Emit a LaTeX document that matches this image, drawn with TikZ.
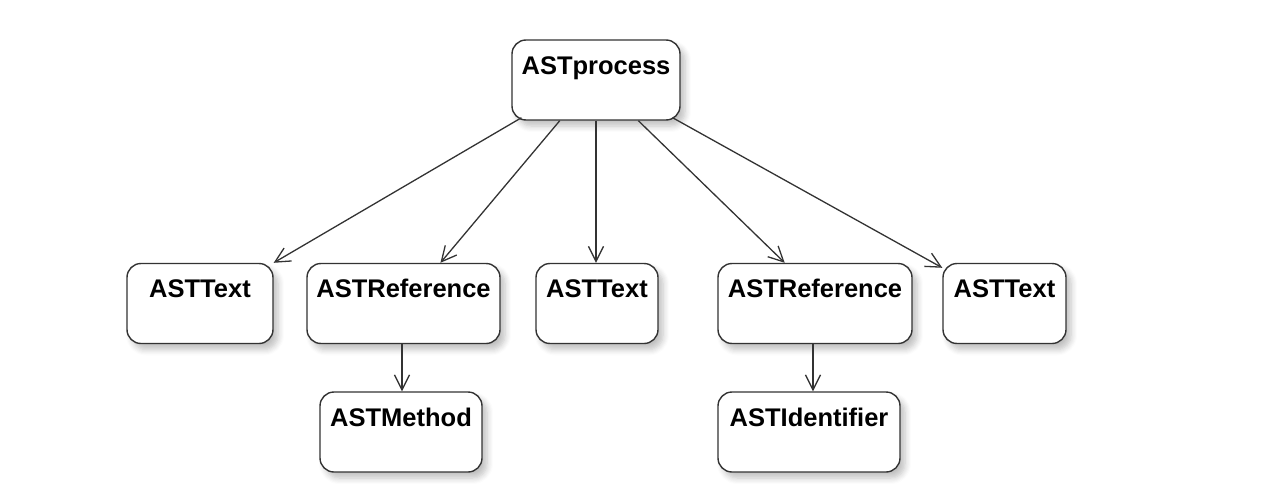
\documentclass[tikz,border=0pt]{standalone}
\usepackage{fontspec}
\setmainfont{Liberation Sans}
\usetikzlibrary{arrows.meta,calc,shadows.blur}
\definecolor{edge}{HTML}{333333}
\tikzset{
  astbox/.style={draw=edge, line width=1.4pt, rounded corners=14pt, fill=white,
    inner sep=0pt, font=\fontsize{25.5}{28}\selectfont\bfseries,
    text height=34pt, text depth=46pt, minimum height=80pt,
    blur shadow={shadow xshift=5pt, shadow yshift=-6pt, shadow blur steps=6, shadow opacity=25, shadow blur radius=6pt}},
  conn/.style={draw=edge, line width=1.3pt, -{Straight Barb[length=15pt,width=15pt,line width=1.3pt]}}
}
\begin{document}
\begin{tikzpicture}[x=1pt,y=-1pt]
\useasboundingbox (0,0) rectangle (1278,498);
\node[astbox, minimum width=168pt] (proc) at (596,80) {ASTprocess};
\node[astbox, minimum width=146pt] (t1) at (200,303.5) {ASTText};
\node[astbox, minimum width=193pt] (r1) at (403.5,303.5) {ASTReference};
\node[astbox, minimum width=122pt] (t2) at (597,303.5) {ASTText};
\node[astbox, minimum width=194pt] (r2) at (815,303.5) {ASTReference};
\node[astbox, minimum width=123pt] (t3) at (1004.5,303.5) {ASTText};
\node[astbox, minimum width=162pt] (m) at (401,432) {ASTMethod};
\node[astbox, minimum width=182pt] (id) at (809,432) {ASTIdentifier};
\coordinate (p1) at ($(proc.south west)!0.06!(proc.south east)+(0,-3)$);
\coordinate (p2) at ($(proc.south west)!0.286!(proc.south east)$);
\coordinate (p4) at ($(proc.south west)!0.75!(proc.south east)$);
\coordinate (p5) at ($(proc.south west)!0.952!(proc.south east)+(0,-3)$);
\coordinate (e2) at ($(r1.north west)!0.69!(r1.north east)$);
\coordinate (e4) at ($(r2.north west)!0.345!(r2.north east)$);
\coordinate (e5) at ($(t3.north west)+(0,5)$);
\coordinate (s1) at ($(r1.south)+(-1.5,0)$);
\coordinate (s2) at ($(r2.south)+(-2,0)$);
\draw[conn] (p1) -- (t1.north east);
\draw[conn] (p2) -- (e2);
\draw[conn] (proc.south) -- (proc.south |- t2.north);
\draw[conn] (p4) -- (e4);
\draw[conn] (p5) -- (e5);
\draw[conn] (s1) -- (s1 |- m.north);
\draw[conn] (s2) -- (s2 |- id.north);
\end{tikzpicture}
\end{document}
